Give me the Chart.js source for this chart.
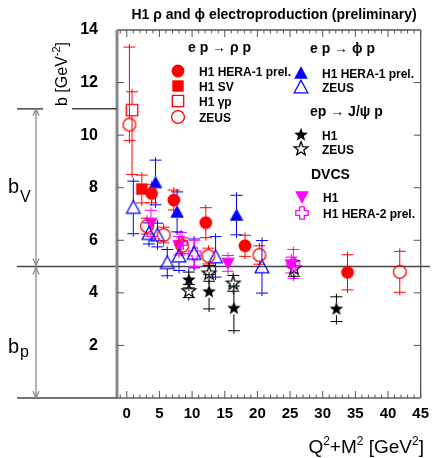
<!DOCTYPE html>
<html>
<head>
<meta charset="utf-8">
<script src="https://cdn.jsdelivr.net/npm/chart.js@4.4.0/dist/chart.umd.min.js"></script>
<style>
body { margin: 0; background: #fff; }
#wrap { width: 436px; height: 458px; }
</style>
</head>
<body>
<div id="wrap"><canvas id="c" width="436" height="458"></canvas></div>
<script>
// tick labels
var xTickVals = [0, 5, 10, 15, 20, 25, 30, 35, 40, 45];
var yTickVals = [2, 4, 6, 8, 10, 12, 14];

// e p -> rho p
var rhoH1X = [3.8, 7.2, 12.1, 18.1, 33.8];
var rhoH1Y = [7.78, 7.53, 6.67, 5.79, 4.78];
var rhoH1E = [0.35, 0.38, 0.57, 0.4, 0.67];

var rhoSvX = [2.3];
var rhoSvY = [7.95];
var rhoSvE = [0.53];

var rhoGpX = [0.8];
var rhoGpY = [10.95];
var rhoGpUp = [0.7];
var rhoGpDn = [2.45];

var rhoZeusX = [0.4, 3.1, 5.65, 8.5, 12.5, 20.3, 41.8];
var rhoZeusY = [10.4, 6.54, 6.2, 5.79, 5.4, 5.44, 4.8];
var rhoZeusUp = [2.95, 0.3, 0.3, 0.3, 0.3, 0.35, 0.78];
var rhoZeusDn = [0.6, 0.3, 0.3, 0.3, 0.3, 0.35, 0.78];

// e p -> phi p
var phiH1X = [4.4, 7.7, 16.8];
var phiH1Y = [8.2, 7.08, 6.96];
var phiH1E = [0.85, 0.76, 0.75];

var phiZeusX = [1.0, 3.4, 4.7, 6.2, 8.0, 10.3, 13.6, 20.7];
var phiZeusY = [7.25, 6.26, 6.2, 5.15, 5.4, 5.5, 5.37, 4.99];
var phiZeusE = [1.0, 0.4, 0.45, 0.5, 0.55, 0.55, 0.77, 1.0];

// ep -> J/psi p
var jpsiH1X = [9.5, 12.6, 16.4, 32.1];
var jpsiH1Y = [4.49, 4.04, 3.41, 3.38];
var jpsiH1E = [0.3, 0.65, 0.85, 0.47];

var jpsiZeusX = [9.5, 12.6, 16.3, 25.6];
var jpsiZeusY = [4.07, 4.74, 4.36, 4.93];
var jpsiZeusE = [0.25, 0.3, 0.3, 0.3];

// DVCS
var dvcsH1X = [3.7, 8.0, 15.5, 25.2];
var dvcsH1Y = [6.64, 5.79, 5.12, 5.06];
var dvcsH1E = [0.5, 0.35, 0.3, 0.3];

var dvcsH2X = [8.3, 10.4, 25.5];
var dvcsH2Y = [5.9, 5.5, 5.1];
var dvcsH2E = [0.4, 0.5, 0.55];

var FONT = "'Liberation Sans', Arial, sans-serif";
var RED = '#ff0000', BLUE = '#0000ff', MAG = '#ff00ff', BLK = '#000000';

// marker shapes
function shapePath(ctx, kind, cx, cy) {
    ctx.beginPath();
    if (kind == 'circle') {
        ctx.arc(cx, cy, 6.4, 0, Math.PI * 2);
    } else if (kind == 'square') {
        ctx.rect(cx - 5.7, cy - 5.7, 11.4, 11.4);
    } else if (kind == 'triUp') {
        ctx.moveTo(cx, cy - 6.8); ctx.lineTo(cx + 6.8, cy + 5.8); ctx.lineTo(cx - 6.8, cy + 5.8); ctx.closePath();
    } else if (kind == 'triDown') {
        ctx.moveTo(cx, cy + 6.8); ctx.lineTo(cx + 6.8, cy - 5.8); ctx.lineTo(cx - 6.8, cy - 5.8); ctx.closePath();
    } else if (kind == 'star') {
        for (var k = 0; k < 10; k++) {
            var r = k % 2 == 0 ? 7.2 : 3;
            var a = -Math.PI / 2 + k * Math.PI / 5;
            var px = cx + r * Math.cos(a), py = cy + r * Math.sin(a);
            if (k == 0) ctx.moveTo(px, py); else ctx.lineTo(px, py);
        }
        ctx.closePath();
    } else if (kind == 'cross') {
        var w = 2.3, l = 6.2;
        ctx.moveTo(cx - w, cy - l); ctx.lineTo(cx + w, cy - l); ctx.lineTo(cx + w, cy - w);
        ctx.lineTo(cx + l, cy - w); ctx.lineTo(cx + l, cy + w); ctx.lineTo(cx + w, cy + w);
        ctx.lineTo(cx + w, cy + l); ctx.lineTo(cx - w, cy + l); ctx.lineTo(cx - w, cy + w);
        ctx.lineTo(cx - l, cy + w); ctx.lineTo(cx - l, cy - w); ctx.lineTo(cx - w, cy - w);
        ctx.closePath();
    }
}

function drawMarker(ctx, kind, filled, color, cx, cy) {
    ctx.save();
    shapePath(ctx, kind, cx, cy);
    if (filled) {
        ctx.fillStyle = color;
        ctx.fill();
    } else {
        ctx.strokeStyle = color;
        ctx.lineWidth = 1.3;
        ctx.stroke();
    }
    ctx.restore();
}

function markerImg(kind, filled, color) {
    var cv = document.createElement('canvas');
    cv.width = 18; cv.height = 18;
    drawMarker(cv.getContext('2d'), kind, filled, color, 9, 9);
    return cv;
}

function pts(xs, ys) {
    return xs.map(function (v, i) { return { x: v, y: ys[i] }; });
}

function series(label, xs, ys, up, dn, kind, filled, color) {
    return {
        label: label,
        data: pts(xs, ys),
        errUp: up,
        errDn: dn,
        color: color,
        pointStyle: markerImg(kind, filled, color),
        pointRadius: 7,
        showLine: false
    };
}

var datasets = [
    series('rho ZEUS', rhoZeusX, rhoZeusY, rhoZeusUp, rhoZeusDn, 'circle', false, RED),
    series('rho H1 gp', rhoGpX, rhoGpY, rhoGpUp, rhoGpDn, 'square', false, RED),
    series('phi ZEUS', phiZeusX, phiZeusY, phiZeusE, phiZeusE, 'triUp', false, BLUE),
    series('DVCS H1 HERA-2', dvcsH2X, dvcsH2Y, dvcsH2E, dvcsH2E, 'cross', false, MAG),
    series('DVCS H1', dvcsH1X, dvcsH1Y, dvcsH1E, dvcsH1E, 'triDown', true, MAG),
    series('rho H1 SV', rhoSvX, rhoSvY, rhoSvE, rhoSvE, 'square', true, RED),
    series('rho H1 HERA-1', rhoH1X, rhoH1Y, rhoH1E, rhoH1E, 'circle', true, RED),
    series('phi H1 HERA-1', phiH1X, phiH1Y, phiH1E, phiH1E, 'triUp', true, BLUE),
    series('J/psi ZEUS', jpsiZeusX, jpsiZeusY, jpsiZeusE, jpsiZeusE, 'star', false, BLK),
    series('J/psi H1', jpsiH1X, jpsiH1Y, jpsiH1E, jpsiH1E, 'star', true, BLK)
];

function seg(ctx, x1, y1, x2, y2) {
    ctx.beginPath(); ctx.moveTo(x1, y1); ctx.lineTo(x2, y2); ctx.stroke();
}

// text with super/subscripts; parts: [text, size, dy]
function rich(ctx, parts, x, y, align) {
    var total = 0;
    parts.forEach(function (p) {
        ctx.font = p[1] + 'px ' + FONT;
        total += ctx.measureText(p[0]).width;
    });
    var cx = align == 'right' ? x - total : x;
    ctx.textAlign = 'left';
    parts.forEach(function (p) {
        ctx.font = p[1] + 'px ' + FONT;
        ctx.fillText(p[0], cx, y + (p[2] || 0));
        cx += ctx.measureText(p[0]).width;
    });
}

function arrowHead(ctx, x, y, dir) {
    seg(ctx, x - 3, y - dir * 7, x, y);
    seg(ctx, x + 3, y - dir * 7, x, y);
}

var deco = {
    id: 'deco',
    beforeDatasetsDraw: function (chart) {
        var ctx = chart.ctx, xs = chart.scales.x, ys = chart.scales.y;
        ctx.save();
        // b = 5 split line
        ctx.strokeStyle = '#444';
        ctx.lineWidth = 1.5;
        var y5 = ys.getPixelForValue(5);
        seg(ctx, 17, y5, 430, y5);

        // error bars
        ctx.lineWidth = 1;
        chart.data.datasets.forEach(function (ds) {
            ctx.strokeStyle = ds.color;
            ds.data.forEach(function (p, i) {
                var px = xs.getPixelForValue(p.x);
                var py = ys.getPixelForValue(p.y);
                var top = ys.getPixelForValue(p.y + ds.errUp[i]);
                var bot = ys.getPixelForValue(p.y - ds.errDn[i]);
                seg(ctx, px, top - 3, px, py - 6);
                seg(ctx, px, py + 6, px, bot + 3);
                seg(ctx, px - 6, top, px + 6, top);
                seg(ctx, px - 6, bot, px + 6, bot);
            });
        });
        ctx.restore();
    },
    afterDatasetsDraw: function (chart) {
        var ctx = chart.ctx, xs = chart.scales.x, ys = chart.scales.y;
        var a = chart.chartArea;
        ctx.save();

        // frame
        ctx.strokeStyle = '#555';
        ctx.lineWidth = 1.3;
        seg(ctx, a.left, a.top, a.right, a.top);
        seg(ctx, a.right, a.top, a.right, a.bottom);
        ctx.strokeStyle = '#888';
        ctx.lineWidth = 2;
        seg(ctx, a.left - 1, a.bottom, a.right, a.bottom);
        ctx.lineWidth = 3;
        seg(ctx, a.left, a.top, a.left, a.bottom);

        // inner ticks
        ctx.strokeStyle = '#555';
        ctx.lineWidth = 1;
        for (var v = -1; v <= 45; v++) {
            var tx = xs.getPixelForValue(v);
            var len = v % 5 == 0 ? 7 : 3.5;
            seg(ctx, tx, a.bottom, tx, a.bottom - len);
            seg(ctx, tx, a.top, tx, a.top + len);
        }
        for (var w = 2; w < 14; w += 2) {
            var ty = ys.getPixelForValue(w);
            seg(ctx, a.left, ty, a.left + 7, ty);
            seg(ctx, a.right, ty, a.right - 7, ty);
        }

        // b_V / b_p decoration on the left
        var y11 = ys.getPixelForValue(11), y5 = ys.getPixelForValue(5), y0 = ys.getPixelForValue(0);
        ctx.strokeStyle = '#444';
        ctx.lineWidth = 1.5;
        seg(ctx, 17, y11, 43, y11);
        seg(ctx, 72, y11, a.left, y11);
        seg(ctx, 17, y0, a.left, y0);
        ctx.strokeStyle = '#888';
        ctx.lineWidth = 1.3;
        seg(ctx, 36, y11, 36, y0);
        arrowHead(ctx, 36, y11, -1);
        arrowHead(ctx, 36, y5 - 1, 1);
        arrowHead(ctx, 36, y5 + 1, -1);
        arrowHead(ctx, 36, y0, 1);

        ctx.fillStyle = '#000';
        ctx.textBaseline = 'alphabetic';
        rich(ctx, [['b', 20, 0]], 8, 193, 'left');
        rich(ctx, [['V', 16, 0]], 20, 202, 'left');
        rich(ctx, [['b', 20, 0]], 8, 353, 'left');
        rich(ctx, [['p', 16, 0]], 20, 357, 'left');

        // axis titles
        ctx.save();
        ctx.translate(67, 106);
        ctx.rotate(-Math.PI / 2);
        rich(ctx, [['b [GeV', 16, 0], ['-2', 11, -7], [']', 16, 0]], 0, 0, 'left');
        ctx.restore();
        rich(ctx, [['Q', 19, 0], ['2', 12, -8], ['+M', 19, 0], ['2', 12, -8], [' [GeV', 19, 0], ['2', 12, -8], [']', 19, 0]], 424, 453, 'right');

        // title
        ctx.font = 'bold 14px ' + FONT;
        ctx.textAlign = 'center';
        ctx.fillText('H1 \u03c1 and \u03d5 electroproduction (preliminary)', 274, 19);

        // legend
        ctx.textAlign = 'left';
        ctx.font = 'bold 14px ' + FONT;
        ctx.fillText('e p \u2192 \u03c1 p', 188, 52);
        ctx.fillText('e p \u2192 \u03d5 p', 310, 53);
        ctx.fillText('ep \u2192 J/\u03c8 p', 310, 116);
        ctx.fillText('DVCS', 311, 179);

        var entries = [
            ['circle', true, RED, 178, 71, 'H1 HERA-1 prel.'],
            ['square', true, RED, 178, 86, 'H1 SV'],
            ['square', false, RED, 178, 101, 'H1 \u03b3p'],
            ['circle', false, RED, 178, 117, 'ZEUS'],
            ['triUp', true, BLUE, 301, 73, 'H1 HERA-1 prel.'],
            ['triUp', false, BLUE, 301, 87, 'ZEUS'],
            ['star', true, BLK, 301, 135, 'H1'],
            ['star', false, BLK, 301, 149, 'ZEUS'],
            ['triDown', true, MAG, 302, 197, 'H1'],
            ['cross', false, MAG, 302, 213, 'H1 HERA-2 prel.']
        ];
        entries.forEach(function (e) {
            drawMarker(ctx, e[0], e[1], e[2], e[3], e[4]);
            ctx.fillStyle = '#000';
            ctx.font = 'bold 12px ' + FONT;
            ctx.fillText(e[5], e[3] + 21, e[4] + 4.5);
        });
        ctx.restore();
    }
};

var chart = new Chart(document.getElementById('c'), {
    type: 'scatter',
    data: { datasets: datasets },
    options: {
        responsive: false,
        animation: false,
        layout: { padding: { top: 30, right: 11, left: 0, bottom: 0 } },
        plugins: {
            legend: { display: false },
            tooltip: { enabled: false }
        },
        scales: {
            x: {
                type: 'linear',
                min: -1.5,
                max: 45,
                afterBuildTicks: function (s) { s.ticks = xTickVals.map(function (v) { return { value: v }; }); },
                afterFit: function (s) { s.height = 60; },
                grid: { display: false, drawTicks: false },
                border: { display: false },
                ticks: {
                    color: '#000',
                    padding: 7,
                    autoSkip: false,
                    maxRotation: 0,
                    font: { family: FONT, size: 15, weight: 'bold' }
                }
            },
            y: {
                min: 0,
                max: 14,
                afterBuildTicks: function (s) { s.ticks = yTickVals.map(function (v) { return { value: v }; }); },
                afterFit: function (s) { s.width = 117; },
                grid: { display: false, drawTicks: false },
                border: { display: false },
                ticks: {
                    color: '#000',
                    padding: 19,
                    font: { family: FONT, size: 16, weight: 'bold' }
                }
            }
        }
    },
    plugins: [deco]
});
</script>
</body>
</html>
